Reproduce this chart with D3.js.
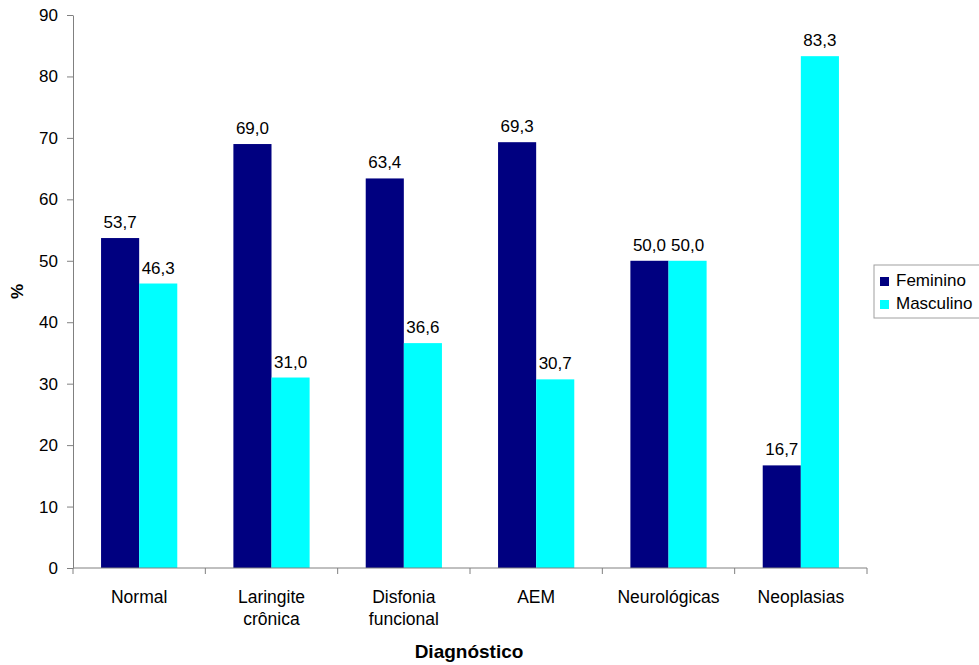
<!DOCTYPE html>
<html>
<head>
<meta charset="utf-8">
<script src="https://cdn.jsdelivr.net/npm/d3@7"></script>
<style>
  body { margin: 0; background: #fff; }
  svg { font-family: "Liberation Sans", Arial, sans-serif; }
</style>
</head>
<body>
<svg id="chart" width="979" height="665"></svg>
<script>
// data
const categories = [["Normal"], ["Laringite", "crônica"], ["Disfonia", "funcional"], ["AEM"], ["Neurológicas"], ["Neoplasias"]];
const seriesNames = ["Feminino", "Masculino"];
const feminino = [53.7, 69.0, 63.4, 69.3, 50.0, 16.7];
const masculino = [46.3, 31.0, 36.6, 30.7, 50.0, 83.3];
const yTicks = [0, 10, 20, 30, 40, 50, 60, 70, 80, 90];
const colors = ["#000080", "#00ffff"];

const margin = {top: 15, left: 73, right: 112, bottom: 97};
const width = 979, height = 665;
const innerW = width - margin.left - margin.right;
const innerH = height - margin.top - margin.bottom;

const svg = d3.select("#chart");
const g = svg.append("g").attr("transform", `translate(${margin.left},${margin.top})`);

const keys = categories.map((c, i) => i);
const x = d3.scaleBand().domain(keys).range([0, innerW]).paddingInner(0.424).paddingOuter(0.212);
const xs = d3.scaleBand().domain([0, 1]).range([0, x.bandwidth()]);
const y = d3.scaleLinear().domain([0, 90]).range([innerH, 0]);

const rows = keys.map(i => [feminino[i], masculino[i]]);

// y axis
const yAxis = g.append("g")
  .call(d3.axisLeft(y).tickValues(yTicks).tickSize(6).tickSizeOuter(0).tickPadding(9));
yAxis.select(".domain").attr("stroke", "#808080");
yAxis.selectAll(".tick line").attr("stroke", "#808080");
yAxis.selectAll(".tick text").attr("fill", "#000").style("font-size", "17px");

// bars
const groups = g.selectAll(".grp").data(rows).join("g")
  .attr("transform", (d, i) => `translate(${x(i)},0)`);

groups.selectAll("rect").data(d => d).join("rect")
  .attr("x", (d, j) => xs(j))
  .attr("y", d => y(d))
  .attr("width", xs.bandwidth())
  .attr("height", d => innerH - y(d))
  .attr("fill", (d, j) => colors[j]);

groups.selectAll("text").data(d => d).join("text")
  .attr("x", (d, j) => xs(j) + xs.bandwidth() / 2)
  .attr("y", d => y(d) - 10)
  .attr("text-anchor", "middle")
  .style("font-size", "17px")
  .text(d => d.toFixed(1).replace(".", ","));

// x axis
const xAxisG = g.append("g").attr("transform", `translate(0,${innerH})`);
xAxisG.append("line").attr("x1", 0).attr("x2", innerW).attr("stroke", "#808080");
xAxisG.selectAll(".xt").data(d3.range(categories.length + 1)).join("line")
  .attr("x1", i => i * innerW / categories.length)
  .attr("x2", i => i * innerW / categories.length)
  .attr("y1", 0).attr("y2", 6)
  .attr("stroke", "#808080");

xAxisG.selectAll(".xl").data(categories).join("text")
  .attr("text-anchor", "middle")
  .attr("transform", (d, i) => `translate(${x(i) + x.bandwidth() / 2},35)`)
  .style("font-size", "17.5px")
  .selectAll("tspan").data(d => d).join("tspan")
  .attr("x", 0)
  .attr("dy", (d, k) => k === 0 ? 0 : 22)
  .text(d => d);

// axis titles
svg.append("text")
  .attr("x", margin.left + innerW / 2 - 1)
  .attr("y", 658)
  .attr("text-anchor", "middle")
  .style("font-size", "19px")
  .style("font-weight", "bold")
  .text("Diagnóstico");

svg.append("text")
  .attr("transform", `translate(23,${margin.top + innerH / 2}) rotate(-90)`)
  .attr("text-anchor", "middle")
  .style("font-size", "17px")
  .style("font-weight", "bold")
  .text("%");

// legend (nudged left a little so "Masculino" is not cut at the edge)
const lg = svg.append("g").attr("transform", "translate(874,265)");
lg.append("rect").attr("width", 110).attr("height", 53)
  .attr("fill", "#fff").attr("stroke", "#a0a0a0");
seriesNames.forEach((name, i) => {
  lg.append("rect").attr("x", 6).attr("y", 12 + i * 23).attr("width", 9).attr("height", 9)
    .attr("fill", colors[i]);
  lg.append("text").attr("x", 22).attr("y", 21 + i * 23)
    .style("font-size", "17px").text(name);
});
</script>
</body>
</html>
